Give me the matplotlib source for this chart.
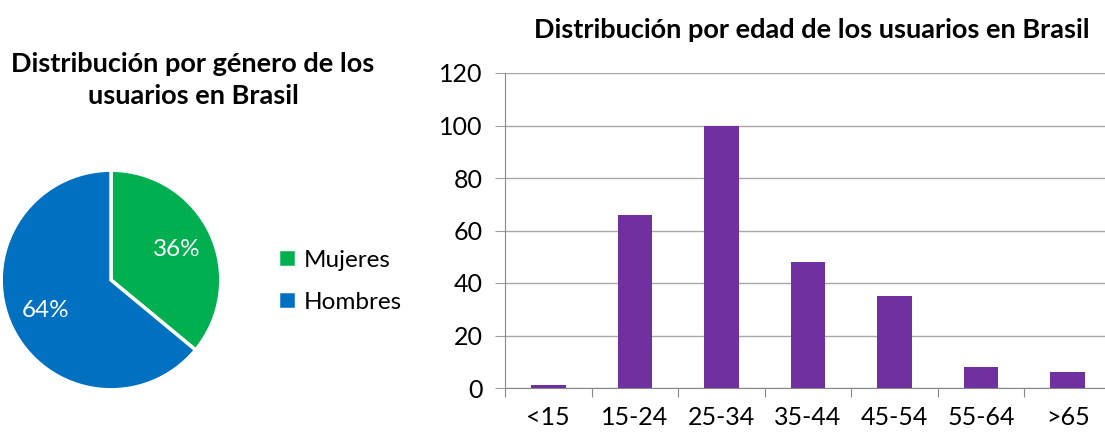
import matplotlib.pyplot as plt

# datos
generos = ['Mujeres', 'Hombres']
porcentajes = [36, 64]
colores_pie = ['#00B050', '#0070C0']

edades = ['<15', '15-24', '25-34', '35-44', '45-54', '55-64', '>65']
usuarios = [1, 66, 100, 48, 35, 8, 6]

plt.rcParams['font.family'] = ['Lato', 'DejaVu Sans']

fig = plt.figure(figsize=(11.05, 4.32), dpi=100)

# --- pastel ---
ax1 = fig.add_axes([(111 - 112) / 1105, (432 - 280 - 112) / 432, 224 / 1105, 224 / 432])
wedges, texts, autotexts = ax1.pie(porcentajes, colors=colores_pie, startangle=90, counterclock=False,
                                   autopct='%d%%', pctdistance=0.66,
                                   wedgeprops=dict(edgecolor='white', linewidth=2.5),
                                   textprops=dict(color='white', fontsize=17.5))
ax1.set_xlim(-1.02, 1.02)
ax1.set_ylim(-1.02, 1.02)
ax1.set_aspect('equal')
fig.text(193 / 1105, 1 - 80 / 432, 'Distribución por género de los\nusuarios en Brasil',
         ha='center', va='center', fontsize=19.5, fontweight='bold', linespacing=1.45)
fig.legend(wedges, generos, loc='center left', bbox_to_anchor=(256 / 1105, 1 - 281 / 432),
           frameon=False, fontsize=17.5, handlelength=0.75, handleheight=0.75,
           labelspacing=0.85, handletextpad=0.3)

# --- barras ---
ax2 = fig.add_axes([505 / 1105, 44 / 432, 606 / 1105, 315 / 432])
x = range(len(edades))
ax2.bar(x, usuarios, width=0.4, color='#7030A0', zorder=3)
ax2.set_xlim(-0.5, len(edades) - 0.5)
ax2.set_ylim(0, 120)
ax2.set_yticks(range(0, 121, 20))
ax2.set_xticks([i - 0.5 for i in range(len(edades) + 1)], minor=False)
ax2.set_xticklabels([])
ax2.set_xticks(list(x), minor=True)
ax2.set_xticklabels(edades, minor=True)
ax2.tick_params(axis='x', which='minor', length=0, pad=13, labelsize=18)
ax2.tick_params(axis='x', which='major', length=6.5, color='#888888', direction='out')
ax2.tick_params(axis='y', length=7, color='#A0A0A0', labelsize=18, pad=9)
ax2.grid(axis='y', color='#A8A8A8', linewidth=1, zorder=0)
for s in ['top', 'right']:
    ax2.spines[s].set_visible(False)
ax2.spines['left'].set_color('#888888')
ax2.spines['bottom'].set_color('#888888')
fig.text(812 / 1105, 1 - 30 / 432, 'Distribución por edad de los usuarios en Brasil',
         ha='center', va='center', fontsize=19.5, fontweight='bold')

fig.savefig('out.png', dpi=100)
